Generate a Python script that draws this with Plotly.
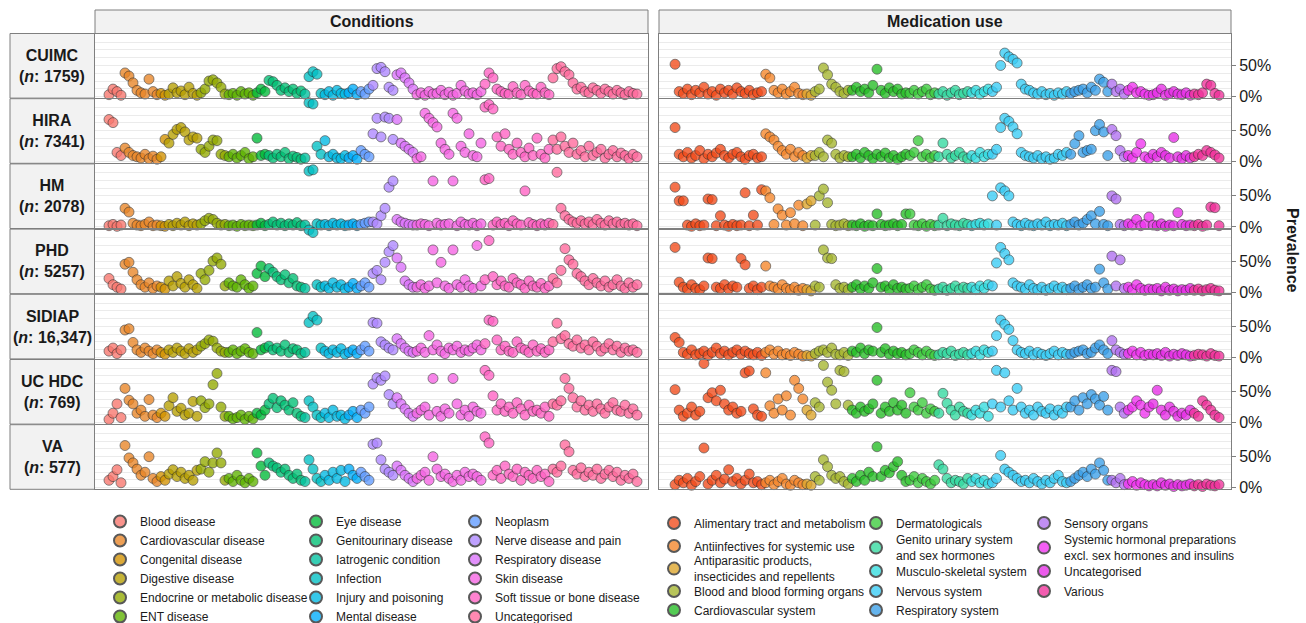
import math
import plotly.graph_objects as go

W, H = 1306, 623

# ---------------- categories / labels ----------------
cond_categories = ["Blood disease", "Cardiovascular disease", "Congenital disease", "Digestive disease",
                   "Endocrine or metabolic disease", "ENT disease", "Eye disease", "Genitourinary disease",
                   "Iatrogenic condition", "Infection", "Injury and poisoning", "Mental disease", "Neoplasm",
                   "Nerve disease and pain", "Respiratory disease", "Skin disease",
                   "Soft tissue or bone disease", "Uncategorised"]
med_categories = ["Alimentary tract and metabolism", "Antiinfectives for systemic use",
                  "Antiparasitic products,<br>insecticides and repellents", "Blood and blood forming organs",
                  "Cardiovascular system", "Dermatologicals", "Genito urinary system<br>and sex hormones",
                  "Musculo-skeletal system", "Nervous system", "Respiratory system", "Sensory organs",
                  "Systemic hormonal preparations<br>excl. sex hormones and insulins", "Uncategorised", "Various"]
med_colors = ["#F24B1A", "#F5862A", "#DDA52A", "#A5B52E", "#25BD25", "#3CCB3C", "#33D9A0",
              "#33DDE0", "#38CCF5", "#3A9FE8", "#B070F0", "#F033F0", "#E62EE6", "#F0309A"]
databases = ["CUIMC", "HIRA", "HM", "PHD", "SIDIAP", "UC HDC", "VA"]
db_sizes = ["1759", "7341", "2078", "5257", "16,347", "769", "577"]
panel_titles = ["Conditions", "Medication use"]
tick_vals = [0, 50]
tick_text = ["0%", "50%"]

# ---------------- prevalence values (%), per category, per database ----------------
cuimc_cond = [
    [3, 12, 8, 2],
    [38, 33, 22, 10, 6, 4, 28, 8, 3],
    [5, 2],
    [4, 14, 6, 9, 3, 15, 5, 2],
    [6, 12, 25, 27, 22, 15, 4],
    [3, 5, 2, 8, 4, 6, 2],
    [6, 12, 8],
    [26, 24, 18, 10, 14, 8, 12, 5, 9],
    [4],
    [32, 40, 36, 5],
    [3, 8, 2, 10, 5, 4],
    [6, 12, 3],
    [8, 4, 12],
    [18, 45, 47, 40, 15, 10],
    [35, 38, 30, 22, 12],
    [3, 6, 2, 8, 4, 5, 10, 3, 7, 2, 5, 18, 9, 4, 6, 3, 8],
    [20, 38, 30, 12, 8, 5, 4, 16, 6, 3, 18, 9, 5, 4, 15, 6, 3],
    [30, 45, 48, 40, 35, 22, 12, 15, 8, 6, 14, 10, 5, 12, 8, 4, 10, 6, 3, 8, 5, 4],
]
hira_cond = [
    [68, 63, 15, 10],
    [22, 15, 10, 8, 6, 12, 5, 9, 4],
    [8, 36],
    [30, 44, 52, 55, 48, 35, 40, 38],
    [20, 15, 25, 35, 34, 12, 10],
    [8, 12, 6, 10, 15, 5, 8],
    [38, 10, 12],
    [10, 6, 12, 8, 15, 5, 9, 7, 4],
    [6],
    [95, 93, 25, 12],
    [34, 8, 12, 6, 5, 10],
    [6, 10, 4],
    [18, 12, 8],
    [45, 70, 40, 72, 70, 36],
    [68, 30, 25, 20, 15],
    [5, 8, 78, 70, 63, 56, 30, 20, 12, 78, 70, 25, 15, 45, 10, 8, 30],
    [88, 92, 85, 40, 25, 45, 20, 12, 30, 15, 8, 22, 10, 38, 12, 6, 20],
    [35, 20, 40, 25, 15, 30, 12, 18, 8, 25, 10, 15, 20, 6, 12, 18, 8, 14, 10, 5, 12, 8],
]
hm_cond = [
    [2, 4, 1, 3],
    [30, 24, 6, 3, 2, 4, 8, 2, 3],
    [2, 1],
    [4, 2, 6, 3, 8, 2, 5, 3],
    [5, 10, 14, 12, 6, 3, 4],
    [2, 3, 1, 4, 2, 3, 2],
    [3, 6, 2],
    [4, 8, 3, 6, 2, 5, 3, 7, 2],
    [3],
    [90, 92, 5, 3],
    [4, 2, 6, 3, 5, 2],
    [3, 5, 2],
    [4, 6, 8],
    [8, 5, 18, 30, 64, 74],
    [12, 8, 6, 4, 3],
    [3, 5, 4, 2, 74, 6, 3, 4, 5, 74, 2, 8, 4, 3, 6, 2, 5],
    [76, 78, 3, 8, 4, 6, 2, 10, 5, 3, 58, 7, 4, 2, 5, 3, 6],
    [4, 88, 30, 18, 12, 8, 6, 10, 5, 8, 4, 12, 6, 3, 10, 5, 8, 4, 6, 3, 5, 2],
]
phd_cond = [
    [22, 12, 8, 5],
    [45, 48, 32, 20, 12, 8, 15, 6, 10],
    [8, 5],
    [18, 10, 25, 14, 8, 20, 12, 6],
    [30, 20, 35, 50, 55, 45, 10],
    [15, 10, 8, 20, 12, 6, 10],
    [30, 42, 25],
    [38, 32, 25, 20, 28, 15, 22, 10, 8],
    [6],
    [100, 96, 12, 8],
    [10, 6, 15, 8, 12, 5],
    [8, 14, 6],
    [10, 15, 8],
    [30, 35, 20, 48, 65, 75],
    [55, 40, 18, 12, 8],
    [8, 12, 6, 10, 68, 15, 48, 10, 6, 68, 12, 8, 20, 10, 6, 75, 10],
    [20, 83, 25, 12, 18, 10, 8, 22, 15, 12, 6, 18, 10, 8, 14, 6, 10],
    [22, 15, 35, 70, 52, 45, 30, 25, 18, 12, 22, 15, 10, 18, 8, 12, 20, 10, 6, 15, 8, 12],
]
sidiap_cond = [
    [10, 15, 6, 12],
    [44, 46, 24, 12, 8, 15, 10, 6, 12],
    [8, 5],
    [12, 8, 15, 10, 6, 14, 8, 12],
    [18, 22, 28, 26, 15, 10, 8],
    [8, 12, 6, 10, 14, 8, 6],
    [40, 12, 15],
    [18, 12, 15, 10, 20, 8, 14, 12, 6],
    [8],
    [56, 66, 60, 15],
    [10, 6, 12, 8, 14, 5],
    [8, 12, 6],
    [12, 18, 10],
    [56, 55, 25, 20, 15, 12],
    [30, 22, 15, 10, 8],
    [10, 15, 8, 35, 12, 20, 10, 6, 15, 12, 18, 8, 12, 10, 15, 20, 12],
    [22, 60, 58, 28, 12, 18, 10, 8, 25, 15, 12, 8, 20, 10, 14, 8, 12],
    [25, 55, 30, 35, 22, 18, 28, 15, 20, 12, 25, 18, 10, 15, 22, 12, 18, 8, 15, 10, 12, 8],
]
uchdc_cond = [
    [5, 15, 30, 8],
    [55, 36, 30, 15, 20, 10, 37, 12, 8],
    [15, 10],
    [27, 40, 18, 23, 12, 15, 34, 10],
    [35, 24, 30, 61, 79, 25, 10],
    [10, 6, 8, 12, 5, 10, 6],
    [15, 12, 20],
    [30, 39, 24, 35, 28, 20, 32, 15, 10],
    [8],
    [35, 25, 12, 8],
    [15, 8, 20, 10, 12, 6],
    [12, 18, 8],
    [20, 15, 25],
    [62, 72, 68, 75, 45, 30],
    [40, 30, 22, 15, 10],
    [15, 20, 25, 12, 71, 18, 10, 22, 15, 71, 30, 12, 20, 10, 25, 18, 15],
    [84, 76, 43, 20, 30, 18, 25, 15, 32, 22, 12, 28, 18, 20, 15, 25, 10],
    [30, 28, 35, 71, 55, 40, 25, 35, 20, 28, 18, 30, 22, 15, 25, 32, 20, 18, 28, 15, 22, 12],
]
va_cond = [
    [12, 18, 29, 8],
    [68, 48, 40, 30, 20, 25, 50, 15, 10],
    [18, 12],
    [22, 29, 18, 25, 15, 20, 12, 28],
    [30, 42, 25, 40, 56, 40, 12],
    [15, 10, 20, 12, 8, 15, 10],
    [56, 35, 20],
    [40, 35, 32, 25, 30, 20, 15, 22, 12],
    [10],
    [45, 30, 15, 10],
    [20, 12, 25, 15, 28, 10],
    [30, 20, 15],
    [25, 18, 12],
    [70, 72, 45, 30, 25, 20],
    [35, 28, 20, 15, 10],
    [15, 20, 25, 12, 50, 30, 18, 22, 15, 10, 20, 12, 25, 18, 22, 18, 12],
    [82, 72, 20, 28, 15, 35, 22, 18, 30, 12, 25, 20, 15, 28, 18, 22, 10],
    [30, 25, 35, 69, 58, 28, 22, 32, 18, 25, 20, 30, 15, 22, 28, 18, 25, 12, 20, 15, 22, 10],
]

cuimc_med = [
    [52, 8, 5, 12, 3, 10, 6, 15, 4, 8, 2, 12, 6, 10, 4, 14, 8, 5, 10, 3, 6, 8],
    [36, 30, 10, 6, 12, 4, 8, 15, 5, 3],
    [4, 2],
    [8, 12, 46, 35, 20, 15, 8, 5, 10],
    [10, 15, 8, 12, 6, 18, 44, 10, 5, 14, 8, 12, 4, 6],
    [5, 10, 4, 8, 12, 3, 6],
    [4, 8, 2, 6, 10, 3, 5, 8],
    [6, 10, 4, 8, 12],
    [8, 15, 50, 70, 64, 60, 54, 20, 12, 10, 6, 4, 8, 3, 5, 2, 6, 4, 8],
    [5, 8, 10, 12, 6, 15, 10, 28, 23, 8],
    [20, 8, 12, 4],
    [10, 15, 6, 8, 4, 2],
    [3, 6, 12, 2, 5, 8, 4, 3, 6, 2],
    [4, 3, 6, 20, 18, 5, 2],
]
hira_med = [
    [55, 12, 8, 15, 6, 10, 18, 5, 12, 8, 14, 20, 10, 6, 12, 15, 8, 4, 10, 12, 6, 8],
    [45, 40, 35, 25, 18, 12, 20, 8, 15, 10],
    [6, 10],
    [10, 15, 8, 35, 30, 12, 6, 10, 8],
    [8, 12, 6, 15, 10, 5, 12, 8, 14, 6, 10, 4, 8, 12],
    [10, 15, 34, 8, 12, 6, 10],
    [8, 30, 12, 6, 10, 15, 8, 5],
    [10, 6, 15, 8, 12],
    [12, 20, 55, 70, 65, 56, 45, 15, 10, 8, 6, 10, 5, 8, 4, 6, 12, 10, 15],
    [12, 29, 42, 15, 18, 20, 50, 60, 48, 10],
    [52, 42, 18, 8],
    [10, 6, 15, 29, 8, 5],
    [12, 8, 15, 10, 6, 39, 8, 5, 10, 6],
    [8, 12, 10, 18, 15, 11, 6],
]
hm_med = [
    [64, 42, 42, 3, 1, 5, 2, 3, 45, 44, 2, 18, 3, 1, 4, 2, 3, 55, 2, 19, 3, 60],
    [58, 47, 4, 29, 19, 3, 23, 5, 35, 2],
    [37, 42],
    [3, 50, 61, 39, 4, 2, 3, 5, 2],
    [3, 2, 5, 1, 3, 2, 21, 4, 2, 3, 5, 2, 4, 21],
    [21, 3, 2, 5, 1, 4, 2],
    [3, 14, 2, 5, 3, 2, 6, 4],
    [2, 4, 6, 3, 5],
    [50, 3, 63, 58, 50, 8, 4, 2, 6, 3, 2, 5, 3, 8, 2, 4, 3, 6, 2],
    [4, 8, 3, 6, 12, 18, 5, 25, 4, 2],
    [50, 45, 4, 2],
    [5, 3, 12, 2, 4, 16],
    [3, 2, 5, 1, 3, 2, 23, 4, 2, 3],
    [2, 4, 1, 3, 32, 31, 2],
]
phd_med = [
    [72, 16, 8, 5, 12, 6, 4, 10, 55, 54, 8, 6, 12, 5, 10, 8, 54, 44, 6, 10, 4, 8],
    [42, 10, 8, 5, 12, 6, 4, 8, 3, 6],
    [4, 2],
    [10, 8, 68, 55, 54, 12, 6, 8, 4],
    [8, 12, 5, 10, 6, 15, 38, 8, 10, 4, 12, 6, 8, 5],
    [6, 10, 4, 8, 12, 5, 3],
    [5, 8, 3, 6, 10, 4, 8, 6],
    [8, 4, 10, 6, 12],
    [10, 47, 72, 62, 52, 15, 10, 8, 5, 12, 6, 4, 8, 3, 6, 10, 5, 8, 4],
    [6, 10, 4, 8, 12, 6, 8, 37, 15, 5],
    [58, 10, 52, 6],
    [8, 4, 12, 6, 3, 5],
    [4, 6, 2, 8, 3, 5, 2, 4, 3, 6],
    [3, 5, 2, 4, 6, 3, 2],
]
sidiap_med = [
    [32, 24, 8, 5, 12, 4, 6, 10, 3, 8, 15, 6, 10, 4, 8, 12, 5, 10, 6, 4, 8, 3],
    [8, 12, 5, 10, 4, 6, 3, 8, 5, 2],
    [3, 2],
    [6, 10, 12, 8, 15, 5, 4, 8, 3],
    [10, 8, 15, 6, 12, 10, 48, 8, 14, 5, 10, 6, 8, 4],
    [6, 12, 8, 4, 10, 5, 3],
    [4, 8, 6, 10, 3, 5, 8, 4],
    [6, 10, 4, 12, 8],
    [10, 35, 60, 53, 45, 27, 12, 8, 6, 10, 4, 8, 5, 3, 6, 10, 4, 8, 5],
    [5, 8, 10, 12, 6, 8, 15, 20, 12, 6],
    [27, 12, 8, 5],
    [6, 10, 4, 8, 3, 5],
    [4, 6, 3, 8, 2, 5, 3, 6, 4, 2],
    [3, 5, 4, 2, 6, 3, 2],
]
uchdc_med = [
    [53, 20, 10, 15, 25, 12, 18, 95, 40, 48, 35, 52, 30, 20, 25, 15, 18, 80, 83, 22, 12, 10],
    [80, 27, 15, 38, 20, 43, 12, 68, 55, 38],
    [20, 12],
    [32, 25, 92, 65, 52, 30, 84, 82, 28],
    [20, 15, 25, 18, 22, 30, 68, 15, 25, 18, 32, 20, 28, 15],
    [48, 25, 20, 32, 15, 22, 18],
    [15, 47, 31, 20, 12, 25, 18, 15],
    [12, 20, 15, 25, 10],
    [30, 84, 25, 80, 35, 20, 55, 25, 15, 20, 12, 25, 18, 15, 22, 12, 20, 15, 25],
    [25, 35, 20, 40, 30, 45, 38, 28, 42, 20],
    [84, 82, 25, 15],
    [20, 25, 35, 28, 15, 25],
    [30, 52, 20, 12, 25, 18, 10, 15, 12, 20],
    [15, 10, 35, 28, 20, 12, 8],
]
va_med = [
    [5, 12, 8, 15, 4, 10, 18, 64, 6, 12, 20, 8, 14, 29, 10, 15, 6, 12, 22, 8, 10, 5],
    [8, 12, 5, 10, 15, 6, 4, 12, 8, 5],
    [6, 4],
    [18, 12, 45, 34, 20, 15, 18, 10, 6],
    [15, 10, 20, 12, 25, 18, 66, 18, 28, 24, 34, 42, 20, 10],
    [12, 18, 8, 15, 10, 6, 12],
    [37, 30, 15, 8, 12, 10, 6, 15],
    [10, 15, 8, 12, 6],
    [8, 15, 52, 30, 25, 20, 15, 10, 12, 8, 15, 10, 6, 12, 8, 15, 20, 10, 8],
    [10, 15, 20, 25, 18, 30, 22, 40, 28, 12],
    [12, 8, 15, 5],
    [6, 10, 4, 8, 5, 3],
    [5, 3, 8, 4, 6, 2, 5, 3, 4, 6],
    [3, 5, 2, 6, 4, 3, 5],
]

cond_data = [cuimc_cond, hira_cond, hm_cond, phd_cond, sidiap_cond, uchdc_cond, va_cond]
med_data = [cuimc_med, hira_med, hm_med, phd_med, sidiap_med, uchdc_med, va_med]


# ---------------- colours: ggplot-style hue palette for conditions ----------------
def hcl_hex(h, c=100.0, l=65.0):
    hr = math.radians(h)
    U, V = c * math.cos(hr), c * math.sin(hr)
    Xn, Yn, Zn = 95.047, 100.0, 108.883
    den = Xn + 15 * Yn + 3 * Zn
    un, vn = 4 * Xn / den, 9 * Yn / den
    Y = Yn * ((l + 16) / 116) ** 3
    u = U / (13 * l) + un
    v = V / (13 * l) + vn
    X = 9.0 * Y * u / (4 * v)
    Z = 3 * Y / v - X / 3 - 5 * Y
    X, Y, Z = X / 100, Y / 100, Z / 100
    rgb = [3.240479 * X - 1.537150 * Y - 0.498535 * Z,
           -0.969256 * X + 1.875992 * Y + 0.041556 * Z,
           0.055648 * X - 0.204043 * Y + 1.057311 * Z]
    out = []
    for ch in rgb:
        ch = 12.92 * ch if ch <= 0.0031308 else 1.055 * ch ** (1 / 2.4) - 0.055
        out.append(int(round(max(0, min(1, ch)) * 255)))
    return "#%02X%02X%02X" % tuple(out)


n_c = len(cond_categories)
cond_colors = [hcl_hex(15 + 360 * i / n_c) for i in range(n_c)]

FONT = "Liberation Sans, Arial, Helvetica, sans-serif"
GRID = "#EBEBEB"
BORDER = "#7F7F7F"

cols_px = [(95, 648), (659, 1231)]
row_top0, row_step, panel_h = 33.5, 65.2, 64.6
y_range = [-2.5, 101.5]

# medication legend placement (pixel centres) : (marker x, centre y)
med_leg_pos = [(674, 523), (674, 546), (674, 569), (674, 591), (674, 610),
               (876, 523), (876, 548), (876, 571), (876, 591), (876, 610),
               (1044, 523), (1044, 548), (1044, 571), (1044, 591)]

fig = go.Figure()
layout_axes = {}
shapes = []
annotations = []


def px_x(p):
    return p / W


def px_y(p):
    return 1 - p / H


for r in range(len(databases)):
    top = row_top0 + r * row_step
    bot = top + panel_h
    for c in range(2):
        k = r * 2 + c + 1
        xa = "x" if k == 1 else f"x{k}"
        ya = "y" if k == 1 else f"y{k}"
        data = cond_data[r] if c == 0 else med_data[r]
        cats = cond_categories if c == 0 else med_categories
        colors = cond_colors if c == 0 else med_colors
        idx = 0
        for i, vals in enumerate(data):
            xs = list(range(idx, idx + len(vals)))
            idx += len(vals)
            if c == 0:
                lg = ["legend", "legend2", "legend3"][i // 6]
            else:
                lg = f"legend{4 + i}"
            fig.add_trace(go.Scatter(
                x=xs, y=vals, mode="markers", xaxis=xa, yaxis=ya,
                name=cats[i], showlegend=(r == 0), legend=lg,
                cliponaxis=False, hoverinfo="skip",
                marker=dict(size=10, color=colors[i], opacity=0.78,
                            line=dict(width=0.7, color="#2A2A2A")),
            ))
        total = idx
        x0, x1 = cols_px[c]
        xkey = "xaxis" if k == 1 else f"xaxis{k}"
        ykey = "yaxis" if k == 1 else f"yaxis{k}"
        if c == 0:
            xr = [-3.5, total - 1 + 2.75]
        else:
            xr = [-3.9, total - 1 + 2.9]
        layout_axes[xkey] = dict(domain=[px_x(x0), px_x(x1)], range=xr, anchor=ya,
                                 showticklabels=False, showgrid=False, zeroline=False,
                                 ticks="", showline=True, mirror=True, linecolor=BORDER, linewidth=1)
        ydict = dict(domain=[px_y(bot), px_y(top)], range=y_range, anchor=xa,
                     tickvals=tick_vals, ticktext=tick_text, showgrid=True, gridcolor=GRID, gridwidth=1,
                     zeroline=False, showline=True, mirror=True, linecolor=BORDER, linewidth=1,
                     minor=dict(dtick=12.5, tick0=0, showgrid=True, gridcolor=GRID, gridwidth=1, ticks=""))
        if c == 0:
            ydict.update(showticklabels=False, ticks="")
        else:
            ydict.update(side="right", ticks="outside", ticklen=4, tickcolor=BORDER, tickwidth=1,
                         tickfont=dict(size=16, color="#1A1A1A", family=FONT))
        layout_axes[ykey] = ydict

    # row strip
    shapes.append(dict(type="rect", xref="paper", yref="paper",
                       x0=px_x(10), x1=px_x(94.5), y0=px_y(bot), y1=px_y(top),
                       fillcolor="#F2F2F2", line=dict(color=BORDER, width=1), layer="below"))
    annotations.append(dict(xref="paper", yref="paper", x=px_x(52), y=px_y((top + bot) / 2),
                            text=f"<b>{databases[r]}</b><br><b>(<i>n</i>: {db_sizes[r]})</b>",
                            showarrow=False, align="center", xanchor="center", yanchor="middle",
                            font=dict(size=16, color="#1A1A1A", family=FONT)))

# column strips
for c in range(2):
    x0, x1 = cols_px[c]
    shapes.append(dict(type="rect", xref="paper", yref="paper",
                       x0=px_x(x0), x1=px_x(x1), y0=px_y(33.5), y1=px_y(10),
                       fillcolor="#F2F2F2", line=dict(color=BORDER, width=1), layer="below"))
    annotations.append(dict(xref="paper", yref="paper", x=px_x((x0 + x1) / 2), y=px_y(21.5),
                            text=f"<b>{panel_titles[c]}</b>", showarrow=False,
                            xanchor="center", yanchor="middle",
                            font=dict(size=16, color="#1A1A1A", family=FONT)))

annotations.append(dict(xref="paper", yref="paper", x=px_x(1293), y=px_y(250),
                        text="<b>Prevalence</b>", showarrow=False, textangle=90,
                        xanchor="center", yanchor="middle",
                        font=dict(size=16, color="#1A1A1A", family=FONT)))

legend_common = dict(xanchor="left", bgcolor="rgba(0,0,0,0)",
                     font=dict(size=12, color="#1A1A1A", family=FONT), itemsizing="constant",
                     tracegroupgap=0, orientation="v")
legends = {
    "legend": dict(x=px_x(100), y=px_y(507), yanchor="top", **legend_common),
    "legend2": dict(x=px_x(296), y=px_y(507), yanchor="top", **legend_common),
    "legend3": dict(x=px_x(455), y=px_y(507), yanchor="top", **legend_common),
}
for i, (mx, my) in enumerate(med_leg_pos):
    legends[f"legend{4 + i}"] = dict(x=px_x(mx - 20), y=px_y(my), yanchor="middle", **legend_common)

fig.update_layout(
    width=W, height=H, margin=dict(l=0, r=0, t=0, b=0, autoexpand=False),
    paper_bgcolor="white", plot_bgcolor="white",
    font=dict(family=FONT, color="#1A1A1A"),
    shapes=shapes, annotations=annotations,
    **layout_axes, **legends,
)

fig.write_html("out.html", config={"displayModeBar": False},
               post_script="document.body.style.margin='0px';")
